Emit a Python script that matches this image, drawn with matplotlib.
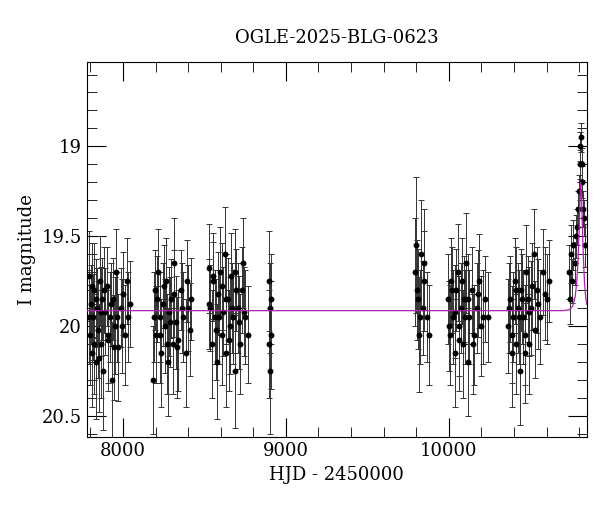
import matplotlib
matplotlib.use("Agg")
import matplotlib.pyplot as plt

title = "OGLE-2025-BLG-0623"
xlabel = "HJD - 2450000"
ylabel = "I magnitude"

hjd = [7790, 7798, 7805, 7812, 7818, 7825, 7832, 7840, 7848, 7856, 7864, 7872, 7880, 7890, 7900, 7910, 7920, 7930, 7940, 7950, 7960, 7970, 7985, 8000, 8015, 8030, 8040,
       8185, 8195, 8205, 8215, 8225, 8235, 8245, 8255, 8265, 8275, 8285, 8295, 8305, 8315, 8325, 8340, 8355, 8370, 8385, 8400, 8415,
       8525, 8535, 8545, 8555, 8565, 8575, 8585, 8595, 8605, 8615, 8625, 8635, 8645, 8655, 8665, 8675, 8685, 8695, 8705, 8720, 8735, 8750, 8765,
       8895, 8898, 8900, 8903, 8906, 8909,
       9790, 9800, 9810, 9820, 9830, 9840, 9850, 9865, 9880,
       9995, 10005, 10015, 10025, 10035, 10045, 10055, 10065, 10075, 10085, 10095, 10105, 10115, 10125, 10140, 10155, 10170, 10185, 10200, 10220, 10240,
       10365, 10375, 10385, 10395, 10405, 10415, 10425, 10435, 10445, 10455, 10465, 10475, 10485, 10495, 10505, 10520, 10540, 10560, 10580, 10600, 10615,
       10735, 10742, 10750, 10758, 10765, 10772, 10780, 10786, 10792, 10798, 10803, 10808, 10812, 10816, 10820, 10826, 10832, 10838]
mag = [19.72, 20.05, 19.88, 20.15, 19.95, 19.80, 20.20, 19.90, 20.02, 19.75, 20.10, 19.85, 20.25, 19.92, 19.78, 20.08, 19.95, 20.30, 19.85, 20.00, 19.70, 20.12, 19.90, 19.82, 20.05, 19.95, 19.88,
       20.30, 19.80, 20.05, 19.70, 19.95, 20.15, 19.88, 20.00, 19.75, 20.20, 19.92, 19.85, 20.10, 19.65, 19.98, 20.08, 19.80, 19.95, 20.15, 19.90, 19.85,
       19.68, 19.90, 20.10, 19.75, 19.95, 20.20, 19.82, 19.70, 20.05, 19.92, 19.60, 20.15, 19.85, 20.00, 19.72, 19.95, 20.25, 19.80, 19.90, 20.10, 19.65, 19.95, 20.05,
       19.75, 20.10, 20.25, 19.90, 20.05, 19.85,
       19.70, 19.55, 19.85, 20.05, 19.60, 19.90, 19.75, 19.95, 20.05,
       19.85, 20.05, 19.75, 19.95, 20.15, 19.80, 19.70, 20.00, 19.90, 20.10, 19.85, 19.65, 20.20, 19.95, 19.80, 20.05, 19.90, 19.75, 20.00, 19.85, 19.95,
       20.00, 19.85, 20.15, 19.95, 19.75, 20.10, 19.90, 20.25, 19.80, 19.95, 20.05, 19.70, 19.85, 20.10, 19.90, 19.60, 19.80, 19.95, 19.70, 19.85, 19.75,
       19.70, 19.85, 19.60, 19.75, 19.55, 19.65, 19.50, 19.45, 19.35, 19.25, 19.10, 19.00, 18.95, 19.10, 19.20, 19.35, 19.40, 19.55]
err = [0.25, 0.28, 0.22, 0.30, 0.24, 0.26, 0.32, 0.22, 0.27, 0.25, 0.30, 0.23, 0.33, 0.24, 0.22, 0.28, 0.25, 0.32, 0.23, 0.27, 0.24, 0.30, 0.22, 0.23, 0.28, 0.25, 0.24,
       0.30, 0.22, 0.27, 0.24, 0.25, 0.30, 0.23, 0.26, 0.24, 0.30, 0.25, 0.22, 0.28, 0.25, 0.26, 0.28, 0.22, 0.25, 0.30, 0.24, 0.23,
       0.25, 0.24, 0.30, 0.22, 0.26, 0.32, 0.23, 0.25, 0.28, 0.25, 0.26, 0.30, 0.23, 0.27, 0.24, 0.26, 0.32, 0.23, 0.25, 0.28, 0.25, 0.26, 0.27,
       0.28, 0.30, 0.35, 0.25, 0.30, 0.25,
       0.30, 0.38, 0.28, 0.32, 0.30, 0.26, 0.28, 0.25, 0.28,
       0.25, 0.28, 0.24, 0.26, 0.30, 0.23, 0.27, 0.28, 0.25, 0.30, 0.24, 0.28, 0.30, 0.26, 0.24, 0.28, 0.25, 0.26, 0.28, 0.24, 0.25,
       0.26, 0.24, 0.30, 0.25, 0.24, 0.28, 0.25, 0.30, 0.23, 0.26, 0.28, 0.26, 0.24, 0.28, 0.26, 0.25, 0.24, 0.26, 0.24, 0.25, 0.23,
       0.15, 0.14, 0.16, 0.12, 0.14, 0.12, 0.12, 0.10, 0.10, 0.09, 0.08, 0.08, 0.08, 0.09, 0.09, 0.10, 0.10, 0.12]

hjd2 = [7794, 7808, 7822, 7836, 7852, 7868, 7885, 7905, 7925, 7945, 7965, 7995, 8025,
        8190, 8210, 8230, 8250, 8270, 8290, 8310, 8330, 8360, 8390, 8410,
        8530, 8550, 8570, 8590, 8610, 8630, 8650, 8670, 8690, 8710, 8730, 8745,
        9805, 9825, 9845,
        10000, 10020, 10040, 10060, 10080, 10100, 10120, 10150, 10180, 10210,
        10370, 10390, 10410, 10430, 10450, 10470, 10490, 10510, 10530, 10550, 10590]
mag2 = [19.95, 19.78, 20.10, 19.85, 20.18, 19.92, 19.80, 20.05, 19.88, 20.12, 19.95, 20.00, 19.75,
        19.95, 19.85, 20.05, 19.78, 20.10, 19.98, 19.82, 20.12, 19.90, 19.75, 20.02,
        19.88, 19.72, 20.02, 19.95, 19.78, 19.85, 20.08, 19.90, 19.70, 19.98, 19.80, 19.92,
        19.80, 19.95, 19.65,
        20.00, 19.80, 19.92, 20.08, 19.75, 19.95, 19.85, 20.10, 19.82, 19.95,
        19.90, 20.05, 19.80, 19.95, 19.85, 20.15, 19.92, 19.78, 20.02, 19.88, 19.82]
err2 = [0.26, 0.24, 0.28, 0.22, 0.30, 0.25, 0.24, 0.27, 0.23, 0.29, 0.25, 0.26, 0.24,
        0.25, 0.24, 0.27, 0.23, 0.28, 0.25, 0.24, 0.28, 0.25, 0.23, 0.26,
        0.25, 0.24, 0.28, 0.26, 0.24, 0.25, 0.28, 0.25, 0.24, 0.26, 0.24, 0.25,
        0.28, 0.26, 0.30,
        0.25, 0.24, 0.26, 0.28, 0.24, 0.26, 0.25, 0.28, 0.24, 0.26,
        0.25, 0.27, 0.24, 0.26, 0.25, 0.28, 0.25, 0.24, 0.27, 0.25, 0.26]

model_t = [7779, 10700, 10740, 10760, 10775, 10785, 10793, 10800, 10805, 10810, 10815, 10820, 10826, 10833, 10840, 10847]
model_m = [19.915, 19.915, 19.91, 19.89, 19.84, 19.76, 19.64, 19.46, 19.31, 19.20, 19.28, 19.45, 19.62, 19.76, 19.84, 19.88]

plt.rcParams["font.family"] = "DejaVu Serif"
fig = plt.figure(figsize=(6, 5.12), dpi=100)
ax = fig.add_axes([0.145, 0.146, 0.833, 0.733])
for t, m, e in ((hjd, mag, err), (hjd2, mag2, err2)):
    ax.errorbar(t, m, yerr=e, fmt="o", color="black", ms=3.2, elinewidth=0.7,
                ecolor="#333333", capsize=2.5, capthick=0.7, zorder=2)
ax.plot(model_t, model_m, color="#b020b0", lw=0.9, zorder=3)
ax.set_xlim(7779, 10847)
ax.set_ylim(20.62, 18.53)
ax.set_xticks([8000, 9000, 10000])
ax.set_xticks(range(7800, 10900, 200), minor=True)
ax.set_yticks([19, 19.5, 20, 20.5])
ax.set_yticklabels(["19", "19.5", "20", "20.5"])
ax.set_yticks([18.6 + 0.1 * i for i in range(21)], minor=True)
ax.tick_params(which="both", direction="in", top=True, right=True, labelsize=13)
ax.tick_params(which="major", length=14)
ax.tick_params(which="minor", length=7)
ax.set_xlabel(xlabel, fontsize=13)
ax.set_ylabel(ylabel, fontsize=13)
ax.set_title(title, fontsize=13, pad=14)
fig.savefig("out.png")
